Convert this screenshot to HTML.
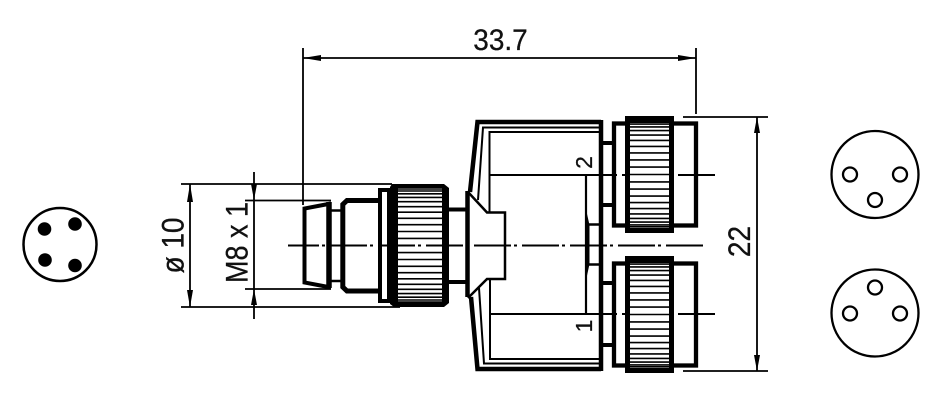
<!DOCTYPE html>
<html>
<head>
<meta charset="utf-8">
<style>
html,body{margin:0;padding:0;background:#fff;width:945px;height:402px;overflow:hidden}
svg{display:block}
text{font-family:"Liberation Sans",sans-serif;fill:#111;stroke:#111;stroke-width:.25}
</style>
</head>
<body>
<svg width="945" height="402" viewBox="0 0 945 402" xmlns="http://www.w3.org/2000/svg">
<rect width="945" height="402" fill="#fff"/>

<!-- Dimension lines -->
<g stroke="#000" stroke-width="1.800" fill="none">
  <path d="M303 48V205M696 48V114M303 58H696"/>
  <path d="M683 117H768M683 371H768M757 117V371"/>
  <path d="M181 184H392M181 307H400M190 184V307"/>
  <path d="M245 200.500H331M245 289H331M254 172V319"/>
</g>
<g fill="#000">
  <path d="M303 58L321 55V61Z"/><path d="M696 58L678 55V61Z"/>
  <path d="M757 117L754 133H760Z"/><path d="M757 371L754 355H760Z"/>
  <path d="M190 184L187 202H193Z"/><path d="M190 307L187 290H193Z"/>
  <path d="M254 200L251 184H257Z"/><path d="M254 289L251 305H257Z"/>
</g>

<!-- Y body -->
<g fill="none" stroke="#000" stroke-linejoin="miter">
  <path d="M601 122H477.500L470 192" stroke-width="4.500"/>
  <path d="M601 369H477.500L471 297" stroke-width="4.500"/>
  <path d="M599 127.500H483L478 200" stroke-width="2"/>
  <path d="M599 132H489.500V212" stroke-width="2"/>
  <path d="M599 363.500H484L479 288" stroke-width="2"/>
  <path d="M599 359H490V279" stroke-width="2"/>
  <path d="M601 120V371" stroke-width="4.500"/>
  <path d="M467.500 191V297" stroke-width="4.500"/>
  <path d="M468 192L487 212.500H505V279H487L468 298" stroke-width="2.500"/>
  <path d="M603 143H615M603 205H615M603 283H615M603 345H615" stroke-width="4"/>
  <path d="M586 175V314" stroke-width="2.200"/>
  <path d="M588 224.500H599M588 264.500H599" stroke-width="2.500"/>
</g>
<path d="M585 205L589.500 225V264L585 285Z" fill="#000"/>

<!-- Centre lines of outlets -->
<g stroke="#000" stroke-width="2" fill="none">
  <path d="M490 175H617M622 175H625M678 175H715"/>
  <path d="M490 314H617M622 314H625M678 314H715"/>
</g>

<!-- Right outlets -->
<g fill="none" stroke="#000" stroke-width="4.300">
  <rect x="614" y="123.500" width="82" height="102"/>
  <rect x="614" y="263.500" width="82" height="102"/>
</g>
<defs>
  <path id="k1" d="M630 0H669M630 -7.400H669M630 7.400H669M630 -14.600H669M630 14.600H669M630 -21.600H669M630 21.600H669M630 -28.100H669M630 28.100H669M630 -34.100H669M630 34.100H669M630 -39.400H669M630 39.400H669M630 -43.900H669M630 43.900H669M630 -47.600H669M630 47.600H669M630 -50.400H669M630 50.400H669M630 -52.300H669M630 52.300H669" stroke="#000" stroke-width="1.600" fill="none"/>
</defs>
<g>
  <rect x="625" y="116" width="49" height="117" fill="#000"/>
  <rect x="630" y="122" width="39" height="106" fill="#fff"/>
  <use href="#k1" transform="translate(0 174.500)"/>
  <rect x="625" y="256" width="49" height="117" fill="#000"/>
  <rect x="630" y="262" width="39" height="106" fill="#fff"/>
  <use href="#k1" transform="translate(0 314.500)"/>
</g>

<!-- Left connector -->
<g fill="none" stroke="#000">
  <path d="M331 203.500L304.500 208.500V282.500L331 287.500" stroke-width="4"/>
  <path d="M329 202V288" stroke-width="5.500"/>
  <path d="M331 210.500H341M331 281H341" stroke-width="2.600"/>
  <path d="M378 200.500H347L342.800 204.500V287L347 291H378" stroke-width="5"/>
  <rect x="380" y="190" width="9" height="111" stroke-width="4"/>
  <path d="M448 209.500H467M448 282H467" stroke-width="4"/>
</g>
<path d="M392 184H444L449 188V303L444 307H394L390 304V187Z" fill="#000"/>
<rect x="398" y="188" width="44" height="114" fill="#fff"/>
<path d="M398 238.400H442M398 252.600H442M398 231.500H442M398 259.500H442M398 224.700H442M398 266.300H442M398 218.300H442M398 272.700H442M398 212.200H442M398 278.800H442M398 206.700H442M398 284.300H442M398 201.700H442M398 289.300H442M398 197.400H442M398 293.600H442M398 193.800H442M398 297.200H442M398 191H442M398 300H442M398 189H442M398 302H442" stroke="#000" stroke-width="1.600" fill="none"/>

<!-- Main axis -->
<path d="M288 245.500H705" stroke="#000" stroke-width="2" fill="none" stroke-dasharray="37 3 3 5" stroke-dashoffset="6"/>

<!-- Pin views -->
<circle cx="60" cy="244.500" r="36.500" fill="none" stroke="#000" stroke-width="2.500"/>
<g fill="#000">
  <circle cx="44.500" cy="229" r="6.800"/>
  <circle cx="75" cy="224" r="6.800"/>
  <circle cx="45" cy="260" r="6.800"/>
  <circle cx="75" cy="265.500" r="6.800"/>
</g>
<g fill="none" stroke="#000" stroke-width="2.300">
  <circle cx="875" cy="174.500" r="43.500"/>
  <circle cx="850" cy="174.500" r="7"/>
  <circle cx="900" cy="174.500" r="7"/>
  <circle cx="875" cy="200" r="7"/>
  <circle cx="875" cy="313" r="43.500"/>
  <circle cx="875" cy="287.500" r="7"/>
  <circle cx="850" cy="313.500" r="7"/>
  <circle cx="900" cy="313.500" r="7"/>
</g>

<!-- Labels -->
<text transform="translate(500.500 50) scale(1 1.05)" font-size="28" text-anchor="middle">33.7</text>
<text transform="translate(183.500 245.500) rotate(-90) scale(1 1.13)" font-size="28" text-anchor="middle">ø 10</text>
<text transform="translate(247.500 242.500) rotate(-90) scale(1 1.17)" font-size="27" text-anchor="middle">M8 x 1</text>
<text transform="translate(750 241.500) rotate(-90) scale(1 1.12)" font-size="28" text-anchor="middle">22</text>
<text transform="translate(592 162.500) rotate(-90)" font-size="23" text-anchor="middle">2</text>
<text transform="translate(592 326) rotate(-90)" font-size="23" text-anchor="middle">1</text>
</svg>
</body>
</html>
